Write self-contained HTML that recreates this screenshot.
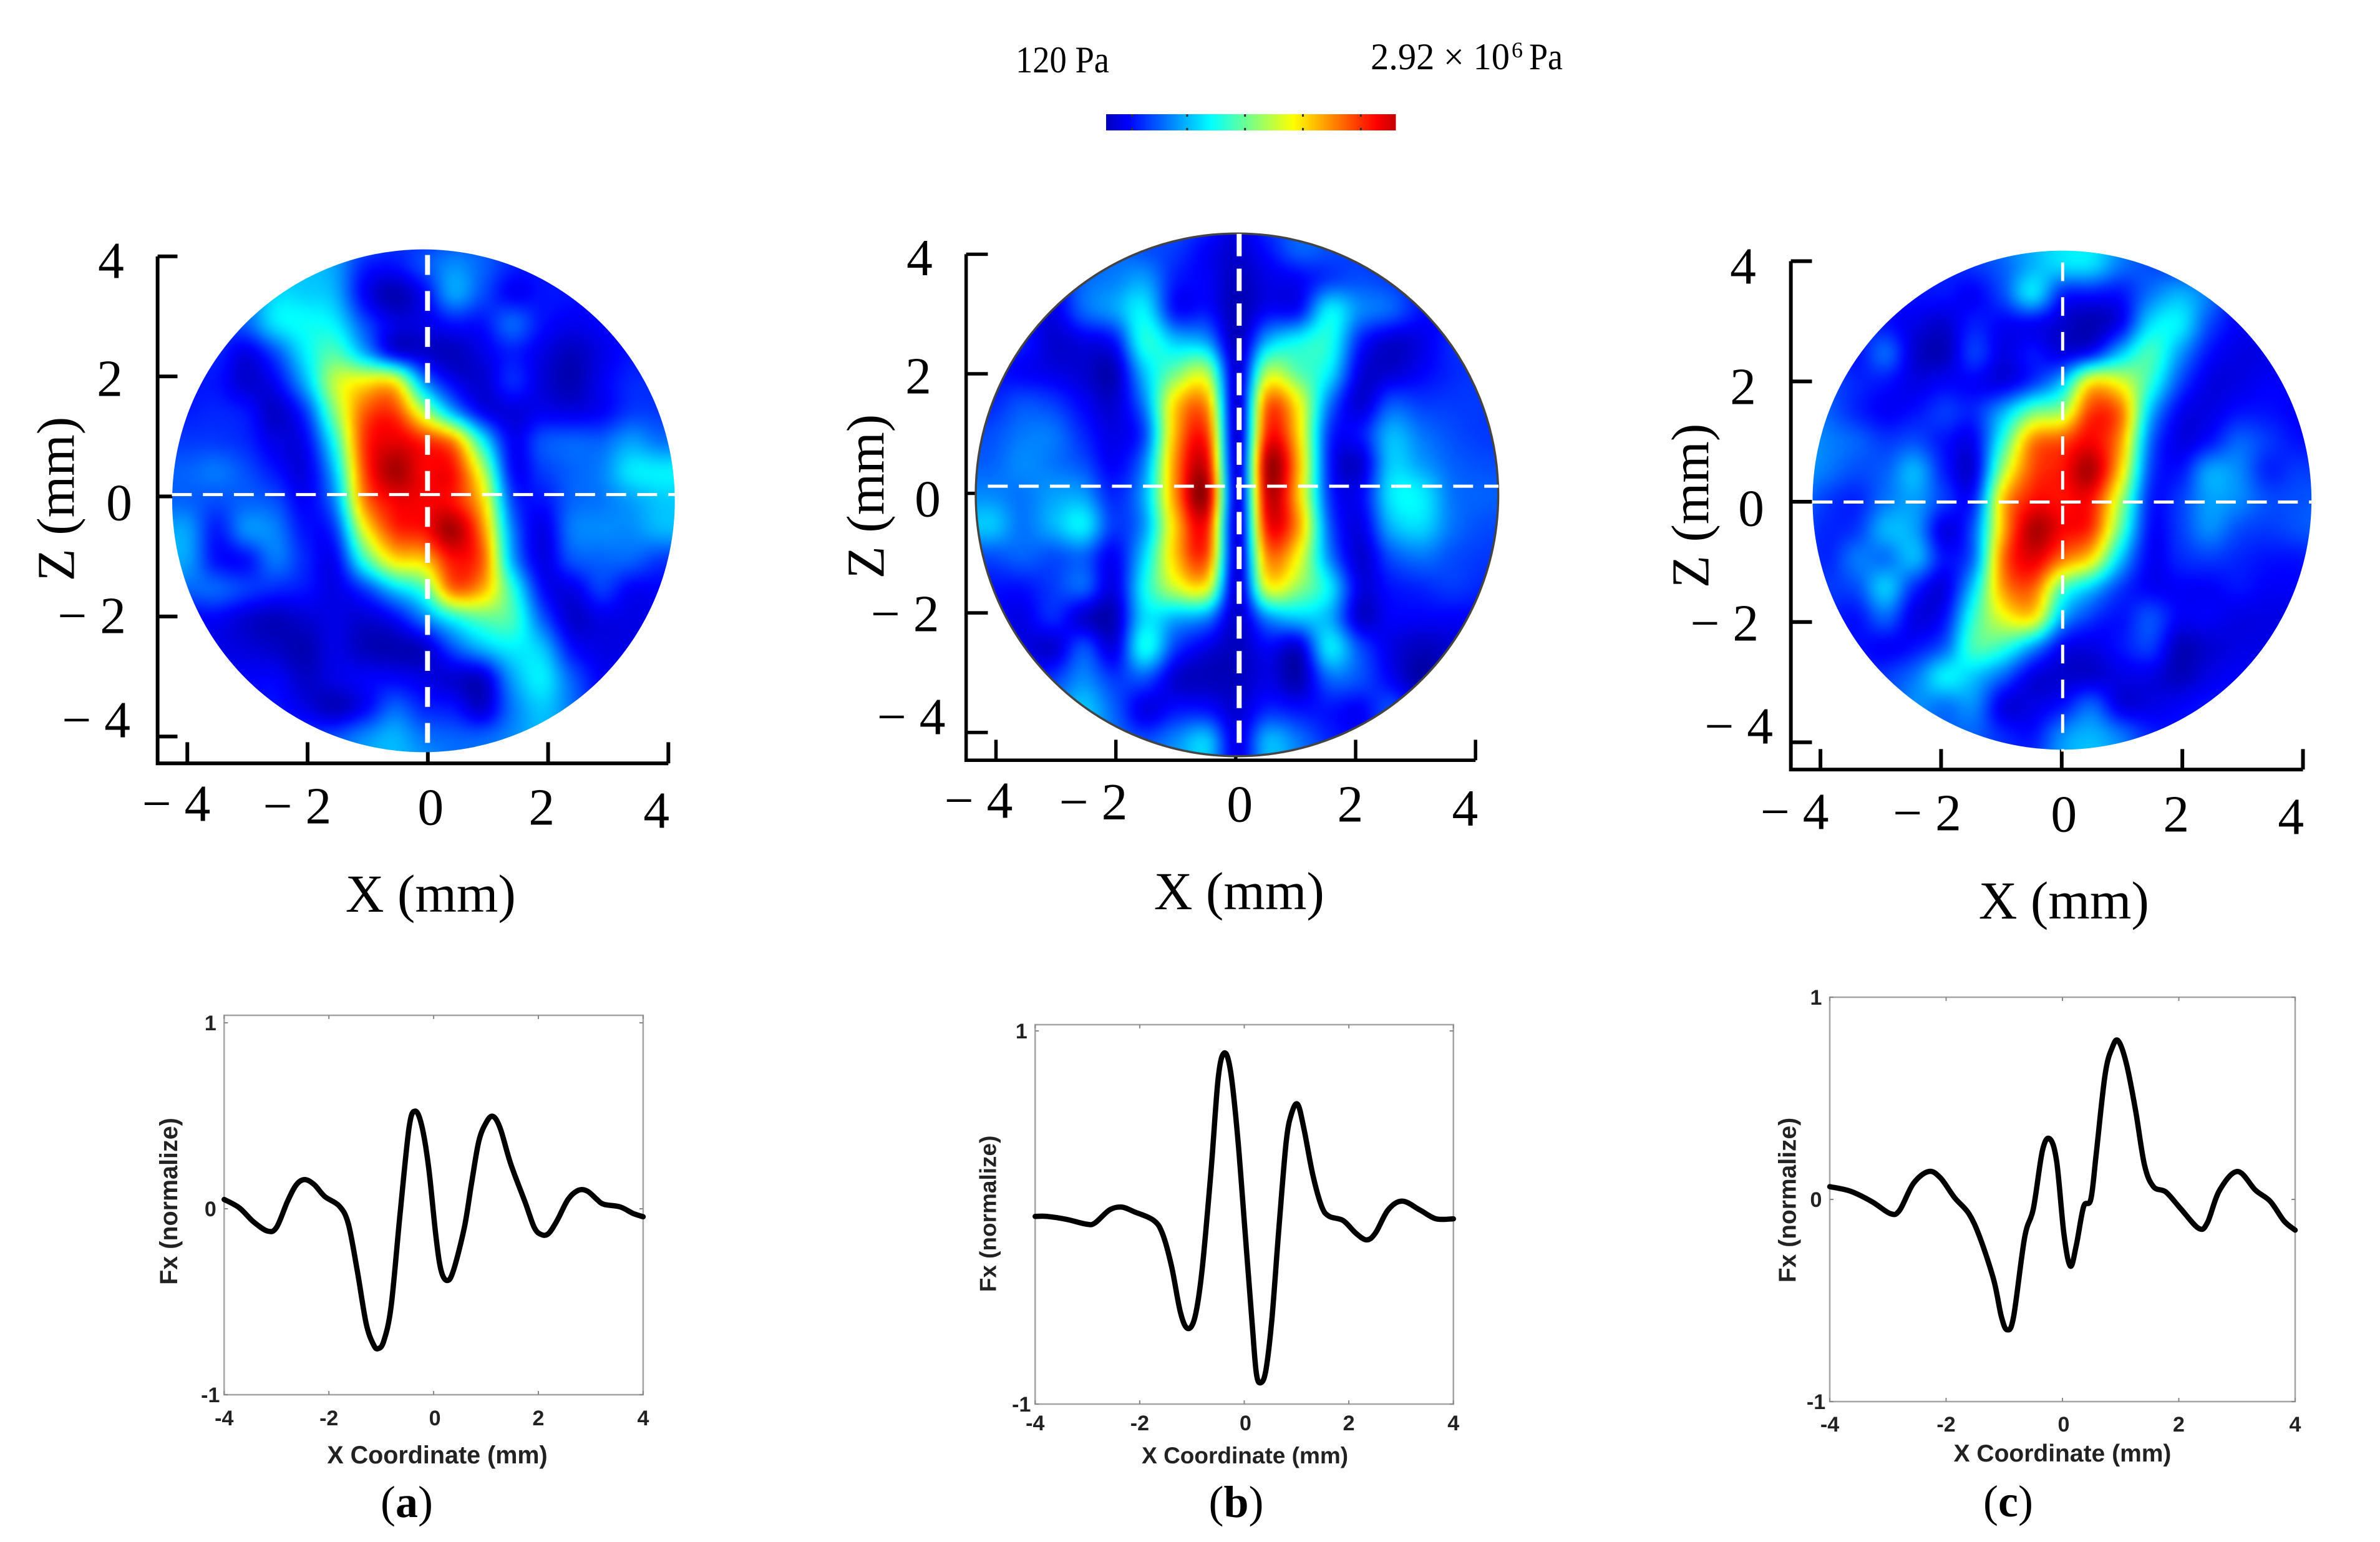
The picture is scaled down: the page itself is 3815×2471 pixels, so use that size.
<!DOCTYPE html>
<html lang="en">
<head>
<meta charset="utf-8">
<title>Acoustic pressure fields and normalized Fx curves</title>
<style>
html,body{margin:0;padding:0;background:#fff;}
svg{display:block;}
.serif{font-family:"Liberation Serif","Times New Roman",serif;fill:#000;}
.tl{font-size:84px;text-anchor:middle;}
.al{font-size:86px;text-anchor:middle;}
.sans{font-family:"Liberation Sans",Arial,sans-serif;font-weight:700;fill:#222;text-anchor:middle;}
</style>
</head>
<body>
<svg id="figure" xmlns="http://www.w3.org/2000/svg" width="3815" height="2471" viewBox="0 0 3815 2471">
<defs>
<filter id="soft" filterUnits="userSpaceOnUse" x="0" y="300" width="3815" height="1000" color-interpolation-filters="sRGB"><feGaussianBlur stdDeviation="3.5"/></filter>
<clipPath id="clip-a"><circle cx="682.5" cy="805" r="405"/></clipPath>
<clipPath id="clip-b"><circle cx="1986.5" cy="795.4" r="421"/></clipPath>
<clipPath id="clip-c"><circle cx="3309" cy="804" r="402"/></clipPath>
</defs>
<rect x="0" y="0" width="3815" height="2471" fill="#fff"/>

<g id="colorbar"></g>
<text class="serif" x="1628" y="116" font-size="60" textLength="150" lengthAdjust="spacingAndGlyphs">120 Pa</text>
<text class="serif" x="2197" y="111" font-size="60" textLength="223" lengthAdjust="spacingAndGlyphs">2.92 × 10</text>
<text class="serif" x="2423" y="92" font-size="36">6</text>
<text class="serif" x="2451" y="111" font-size="60" textLength="54" lengthAdjust="spacingAndGlyphs">Pa</text>

<!-- panel a field -->
<g transform="translate(0 340) scale(0.99464) translate(0 -340)">
<g id="axes-a"></g>
<g clip-path="url(#clip-a)"><g id="heat-a" filter="url(#soft)"></g></g>
<line x1="689" y1="409" x2="689" y2="1209" stroke="#fff" stroke-width="8" stroke-dasharray="32 26"/>
<line x1="277" y1="795" x2="1088" y2="795" stroke="#fff" stroke-width="5" stroke-dasharray="32 18"/>
<g>
<text class="serif tl" x="179" y="446">4</text>
<text class="serif tl" x="177" y="636">2</text>
<text class="serif tl" x="192" y="836">0</text>
<text class="serif tl" x="148" y="1018">− 2</text>
<text class="serif tl" x="155" y="1186">− 4</text>
<text class="serif tl" x="284" y="1321">− 4</text>
<text class="serif tl" x="479" y="1325">− 2</text>
<text class="serif tl" x="694" y="1327">0</text>
<text class="serif tl" x="873" y="1327">2</text>
<text class="serif tl" x="1058" y="1332">4</text>
<text class="serif al" x="694" y="1467">X (mm)</text>
<text class="serif al" transform="translate(119 802) rotate(-90)">Z (mm)</text>
</g>
</g>

<!-- panel b field -->
<g transform="translate(1300 340) scale(0.99464) translate(-1300 -340)">
<g id="axes-b"></g>
<g clip-path="url(#clip-b)"><g id="heat-b" filter="url(#soft)"></g></g>
<circle cx="1986.5" cy="795.4" r="421" fill="none" stroke="#444" stroke-width="3.5"/>
<line x1="1990" y1="375" x2="1990" y2="1213" stroke="#fff" stroke-width="8" stroke-dasharray="36 20"/>
<line x1="1585" y1="781.5" x2="2408" y2="781.5" stroke="#fff" stroke-width="5" stroke-dasharray="32 18"/>
<g>
<text class="serif tl" x="1475" y="441.5">4</text>
<text class="serif tl" x="1473" y="632">2</text>
<text class="serif tl" x="1488" y="830">0</text>
<text class="serif tl" x="1451.5" y="1015">− 2</text>
<text class="serif tl" x="1461.5" y="1181">− 4</text>
<text class="serif tl" x="1570" y="1315.5">− 4</text>
<text class="serif tl" x="1755" y="1318.5">− 2</text>
<text class="serif tl" x="1991" y="1322">0</text>
<text class="serif tl" x="2169" y="1322">2</text>
<text class="serif tl" x="2354" y="1328.5">4</text>
<text class="serif al" x="1990" y="1463">X (mm)</text>
<text class="serif al" transform="translate(1417 798) rotate(-90)">Z (mm)</text>
</g>
</g>

<!-- panel c field -->
<g transform="translate(2620 340) scale(0.99464) translate(-2620 -340)">
<g id="axes-c"></g>
<g clip-path="url(#clip-c)"><g id="heat-c" filter="url(#soft)"></g></g>
<line x1="3310" y1="421" x2="3310" y2="1209" stroke="#fff" stroke-width="5" stroke-dasharray="30 26"/>
<line x1="2907" y1="807" x2="3712" y2="807" stroke="#fff" stroke-width="5" stroke-dasharray="32 18"/>
<g>
<text class="serif tl" x="2795" y="455">4</text>
<text class="serif tl" x="2795" y="649">2</text>
<text class="serif tl" x="2808" y="845">0</text>
<text class="serif tl" x="2765" y="1030">− 2</text>
<text class="serif tl" x="2788" y="1196">− 4</text>
<text class="serif tl" x="2878" y="1334">− 4</text>
<text class="serif tl" x="3091.5" y="1336">− 2</text>
<text class="serif tl" x="3312" y="1338">0</text>
<text class="serif tl" x="3493" y="1338">2</text>
<text class="serif tl" x="3678" y="1342">4</text>
<text class="serif al" x="3312" y="1478">X (mm)</text>
<text class="serif al" transform="translate(2739 813) rotate(-90)">Z (mm)</text>
</g>
</g>

<g id="plot-a"></g>
<g id="plot-b"></g>
<g id="plot-c"></g>

<text class="serif" x="652" y="2431" font-size="72" text-anchor="middle">(<tspan font-weight="700">a</tspan>)</text>
<text class="serif" x="1981.5" y="2431" font-size="72" text-anchor="middle">(<tspan font-weight="700">b</tspan>)</text>
<text class="serif" x="3219" y="2430" font-size="72" text-anchor="middle">(<tspan font-weight="700">c</tspan>)</text>
</svg>

<script>
// ---------- heatmap data (pressure, 0-100 of the colour scale), sampled every 0.5 mm ----------
const gridCoords = [-4.5,-4,-3.5,-3,-2.5,-2,-1.5,-1,-0.5,0,0.5,1,1.5,2,2.5,3,3.5,4,4.5];
const heatTicks = [-4,-2,0,2,4];
const colorbarTicks = [0.09,0.28,0.48,0.68,0.88];

const pressureA = [
[14,14,14,16,18,22,26,24,18,16,18,20,18,16,14,14,14,14,14],
[16,16,18,20,24,30,28,16,14,20,26,22,16,14,14,14,14,14,14],
[16,16,18,22,33,33,30,12,5,12,28,20,12,14,14,12,12,12,12],
[14,14,18,22,35,38,36,20,10,10,14,14,22,14,11,12,12,12,12],
[14,14,16,10,20,36,45,30,12,8,6,10,15,10,6,10,14,14,14],
[14,14,14,8,12,30,56,64,64,28,12,8,16,9,5,11,16,16,16],
[15,15,16,14,7,18,50,78,82,56,30,12,9,11,10,12,18,18,18],
[18,18,18,16,10,12,40,82,90,84,74,38,12,20,22,22,28,24,24],
[22,22,24,20,14,10,32,80,96,88,86,56,14,18,22,25,35,36,36],
[22,22,20,22,20,12,26,74,88,88,86,66,20,14,22,24,28,32,32],
[28,28,15,26,25,14,18,60,82,86,96,74,26,10,24,26,26,30,30],
[28,28,14,14,24,16,12,42,64,68,86,78,30,10,20,22,22,18,18],
[22,22,22,18,16,14,10,18,32,44,76,70,42,14,10,18,12,12,12],
[12,12,12,8,6,8,10,8,12,24,38,46,44,22,8,10,10,10,10],
[10,10,10,9,7,5,10,6,5,7,20,30,36,32,14,10,10,10,10],
[12,12,12,12,12,7,10,12,12,10,8,8,28,36,22,12,12,12,12],
[12,12,12,12,14,10,6,12,22,16,14,8,24,32,24,14,12,12,12],
[14,14,14,14,16,18,20,26,30,24,22,22,26,30,26,18,14,14,14],
[16,16,16,16,18,20,24,28,30,28,24,24,26,28,26,20,16,16,16]
];
const pressureB = [
[12,12,14,16,18,20,20,20,18,10,18,20,20,18,14,14,12,12,12],
[12,12,14,16,18,22,20,18,12,8,14,22,20,18,14,14,12,12,12],
[12,12,12,12,22,25,28,15,12,6,10,12,18,20,18,14,12,12,12],
[14,14,12,10,22,28,36,14,14,5,12,14,36,26,22,14,12,12,12],
[15,15,15,8,10,14,40,32,28,6,30,38,40,16,8,10,16,16,16],
[14,14,12,10,8,6,32,48,54,8,54,46,36,10,8,12,16,18,18],
[16,16,20,18,12,8,26,66,72,8,76,62,25,8,20,18,18,18,18],
[20,20,24,24,16,10,20,70,82,8,84,66,18,14,30,24,20,18,18],
[22,22,26,24,20,12,26,74,90,9,95,70,16,8,32,28,22,20,20],
[26,26,24,28,28,16,30,74,96,10,92,68,18,12,35,36,24,22,22],
[30,32,24,30,36,18,28,68,86,9,86,72,22,10,30,34,24,20,20],
[20,20,22,20,22,12,34,68,80,9,74,62,26,8,20,24,20,18,18],
[14,14,14,18,22,10,38,58,62,8,60,52,36,10,14,16,18,16,16],
[12,12,10,16,8,6,34,30,26,7,26,32,30,8,12,12,12,12,12],
[10,10,10,8,20,10,38,18,10,6,12,8,35,20,10,6,8,10,10],
[12,12,14,18,26,18,20,8,6,6,10,5,22,20,12,4,8,10,10],
[14,14,16,24,32,22,10,14,14,8,16,14,14,12,20,12,10,10,10],
[14,14,16,24,30,24,20,26,32,10,30,24,16,14,18,14,12,12,12],
[14,14,16,20,24,24,22,26,30,10,28,24,18,16,16,14,12,12,12]
];
const pressureC = [
[14,14,16,16,16,18,22,26,30,34,34,26,20,16,14,14,14,14,14],
[14,14,14,14,14,16,18,22,30,34,34,24,20,18,16,14,14,14,14],
[14,14,14,14,14,14,12,20,34,16,14,14,24,30,24,14,14,14,14],
[16,16,16,14,10,8,15,12,12,8,5,12,34,36,20,12,12,12,12],
[18,18,14,22,8,6,18,10,14,10,15,32,44,28,14,10,10,10,10],
[22,20,16,14,10,12,12,10,18,32,64,60,42,20,10,10,12,12,12],
[26,22,16,12,14,18,16,30,48,54,82,76,32,12,10,14,14,12,12],
[28,25,22,18,20,14,12,42,74,80,88,72,24,10,14,22,18,14,14],
[28,24,20,22,30,15,10,54,80,86,95,66,20,14,28,26,16,18,18],
[24,18,16,24,28,18,16,68,86,86,86,54,16,18,28,26,20,20,22],
[20,16,18,30,28,10,22,70,95,88,82,46,14,18,26,20,18,20,22],
[20,16,24,24,30,14,24,76,90,76,64,32,12,16,18,16,14,14,16],
[20,18,20,32,16,10,34,72,78,46,32,18,12,12,12,14,12,12,14],
[20,16,14,22,10,14,42,60,64,30,18,14,20,12,12,10,10,10,12],
[18,16,14,12,14,22,44,42,28,12,10,14,18,6,8,10,10,10,10],
[18,16,16,18,24,36,32,22,10,8,8,10,10,6,10,12,10,10,10],
[18,18,18,20,26,24,26,10,10,14,22,10,10,12,14,14,12,12,12],
[18,18,18,20,22,22,22,16,14,26,30,24,16,14,14,14,12,12,12],
[18,18,18,20,22,22,22,18,18,28,32,26,18,14,14,14,12,12,12]
];

// ---------- force curve data (x in mm, normalized Fx) ----------
const lineXTicks = [-4,-2,0,2,4];
const lineXLabels = ['-4','-2','0','2','4'];
const fxAX = [-4,-3.71,-3.44,-3.17,-3,-2.79,-2.62,-2.46,-2.28,-2.08,-1.8,-1.63,-1.46,-1.29,-1.15,-1.06,-0.95,-0.81,-0.64,-0.47,-0.355,-0.23,-0.096,0.04,0.14,0.26,0.38,0.587,0.72,0.86,1,1.13,1.27,1.47,1.75,1.92,2.05,2.19,2.36,2.57,2.77,2.94,3.11,3.25,3.56,3.8,4];
const fxAY = [0.05,0.005,-0.07,-0.12,-0.1,0.04,0.13,0.157,0.13,0.066,0.014,-0.08,-0.33,-0.615,-0.73,-0.752,-0.71,-0.52,-0.024,0.434,0.525,0.45,0.224,-0.14,-0.33,-0.386,-0.33,-0.1,0.13,0.36,0.462,0.497,0.434,0.243,0.033,-0.1,-0.138,-0.134,-0.062,0.052,0.1,0.094,0.052,0.024,0.01,-0.024,-0.043];
const fxBX = [-4,-3.78,-3.4,-3.03,-2.86,-2.58,-2.35,-2.1,-1.73,-1.56,-1.39,-1.22,-1.08,-0.94,-0.807,-0.636,-0.5,-0.383,-0.26,-0.123,0.014,0.15,0.23,0.31,0.41,0.527,0.663,0.8,0.9,1.02,1.14,1.31,1.48,1.62,1.89,2.13,2.34,2.51,2.75,3.02,3.36,3.67,4];
const fxBY = [0.006,0.006,-0.01,-0.035,-0.03,0.04,0.056,0.03,-0.016,-0.09,-0.263,-0.51,-0.595,-0.53,-0.28,0.25,0.744,0.882,0.78,0.42,-0.073,-0.567,-0.833,-0.886,-0.823,-0.548,-0.054,0.4,0.553,0.607,0.478,0.23,0.06,0.007,-0.016,-0.083,-0.12,-0.083,0.04,0.088,0.04,-0.007,-0.007];
const fxCX = [-4,-3.64,-3.27,-2.96,-2.8,-2.56,-2.3,-2.1,-1.855,-1.61,-1.42,-1.18,-1.05,-0.95,-0.84,-0.65,-0.5,-0.345,-0.22,-0.1,0.025,0.136,0.24,0.364,0.487,0.58,0.733,0.857,0.96,1.1,1.257,1.41,1.565,1.78,2.03,2.34,2.49,2.7,3.01,3.32,3.57,3.81,4];
const fxCY = [0.063,0.04,-0.012,-0.07,-0.054,0.08,0.138,0.107,0.009,-0.07,-0.188,-0.4,-0.58,-0.645,-0.58,-0.188,-0.045,0.24,0.3,0.188,-0.17,-0.33,-0.224,-0.036,0,0.224,0.618,0.752,0.784,0.67,0.44,0.17,0.063,0.036,-0.045,-0.143,-0.116,0.045,0.138,0.045,-0.009,-0.107,-0.152];

const NS = 'http://www.w3.org/2000/svg';
function mk(parent, tag, attrs){
  const el = document.createElementNS(NS, tag);
  for (const k in attrs) el.setAttribute(k, attrs[k]);
  parent.appendChild(el);
  return el;
}
function clamp01(v){ return Math.max(0, Math.min(1, v)); }
function jet(v){
  const t = clamp01(v / 100);
  const r = clamp01(Math.min(4*t - 1.5, -4*t + 4.5));
  const g = clamp01(Math.min(4*t - 0.5, -4*t + 3.5));
  const b = clamp01(Math.min(4*t + 0.5, -4*t + 2.5));
  return 'rgb(' + Math.round(r*255) + ',' + Math.round(g*255) + ',' + Math.round(b*255) + ')';
}
function cr(p0,p1,p2,p3,t){
  return 0.5*((2*p1)+(-p0+p2)*t+(2*p0-5*p1+4*p2-p3)*t*t+(-p0+3*p1-3*p2+p3)*t*t*t);
}
function sample(grid, xmm, ymm){
  const step = gridCoords[1] - gridCoords[0];
  const n = gridCoords.length;
  const fx = Math.max(0, Math.min(n-1.001, (xmm - gridCoords[0]) / step));
  const fy = Math.max(0, Math.min(n-1.001, (ymm - gridCoords[0]) / step));
  const ix = Math.floor(fx), iy = Math.floor(fy);
  const at = (a) => Math.max(0, Math.min(n-1, a));
  const rows = [];
  for (let j = -1; j <= 2; j++){
    const row = grid[at(iy+j)];
    rows.push(cr(row[at(ix-1)], row[at(ix)], row[at(ix+1)], row[at(ix+2)], fx-ix));
  }
  return cr(rows[0], rows[1], rows[2], rows[3], fy-iy);
}
function drawHeatmap(id, grid, cx, cy, r){
  const g = document.getElementById(id);
  const cell = 8;
  const mmPerPx = 4.25 / r;
  for (let py = cy - r - 16; py < cy + r + 16; py += cell){
    for (let px = cx - r - 16; px < cx + r + 16; px += cell){
      const dx = px + cell/2 - cx, dy = py + cell/2 - cy;
      if (dx*dx + dy*dy > (r+20)*(r+20)) continue;
      const v = sample(grid, dx*mmPerPx, dy*mmPerPx);
      const c = mk(g, 'rect', {x:px, y:py, width:cell+0.5, height:cell+0.5, fill:jet(v), 'shape-rendering':'crispEdges'});
      
      
    }
  }
}
function drawHeatAxes(id, o){
  const g = document.getElementById(id);
  const xs = (v) => o.x0 + v*o.xk;
  const ys = (v) => o.y0 - v*o.yk;
  const left = mk(g, 'path', {d:'M'+o.left+' '+ys(4)+' V'+o.bottom+' H'+xs(4), fill:'none', stroke:'#000', 'stroke-width':o.w});
  
  
  heatTicks.forEach(function(t){
    const a = mk(g, 'line', {x1:o.left, x2:o.ytick, y1:ys(t), y2:ys(t), stroke:'#000', 'stroke-width':o.w});
    
    
    const b = mk(g, 'line', {x1:xs(t), x2:xs(t), y1:o.bottom, y2:o.xtick, stroke:'#000', 'stroke-width':o.w});
    
    
  });
}
function splinePath(xs, ys){
  let d = 'M' + xs[0].toFixed(1) + ' ' + ys[0].toFixed(1);
  for (let i = 0; i < xs.length-1; i++){
    const i0 = Math.max(0,i-1), i3 = Math.min(xs.length-1,i+2);
    const c1x = xs[i] + (xs[i+1]-xs[i0])/6, c1y = ys[i] + (ys[i+1]-ys[i0])/6;
    const c2x = xs[i+1] - (xs[i3]-xs[i])/6, c2y = ys[i+1] - (ys[i3]-ys[i])/6;
    d += ' C' + c1x.toFixed(1)+' '+c1y.toFixed(1)+' '+c2x.toFixed(1)+' '+c2y.toFixed(1)+' '+xs[i+1].toFixed(1)+' '+ys[i+1].toFixed(1);
  }
  return d;
}
function drawLinePlot(id, o, xv, yv, yTickValues, yTickLabels){
  const g = document.getElementById(id);
  const xs = (v) => o.x0 + v*o.xk;
  const ys = (v) => o.y0 - v*o.yk;
  const box = mk(g, 'rect', {x:xs(-4), y:o.top, width:xs(4)-xs(-4), height:ys(-1)-o.top, fill:'none', stroke:'#a4a4a4', 'stroke-width':2.5});
  
  
  lineXTicks.forEach(function(t, i){
    const a = mk(g, 'line', {x1:xs(t), x2:xs(t), y1:ys(-1), y2:ys(-1)-6, stroke:'#888', 'stroke-width':2});
    
    
    const b = mk(g, 'line', {x1:xs(t), x2:xs(t), y1:o.top, y2:o.top+6, stroke:'#888', 'stroke-width':2});
    
    
    const l = mk(g, 'text', {x:xs(t)+(t===0?2:0), y:o.xLabelY, 'font-size':o.tickFs, 'class':'sans'});
    l.textContent = lineXLabels[i];
    
    
  });
  yTickValues.forEach(function(t, i){
    const a = mk(g, 'line', {x1:xs(-4), x2:xs(-4)+6, y1:ys(t), y2:ys(t), stroke:'#888', 'stroke-width':2});
    
    
    const b = mk(g, 'line', {x1:xs(4), x2:xs(4)-6, y1:ys(t), y2:ys(t), stroke:'#888', 'stroke-width':2});
    
    
    const l = mk(g, 'text', {x:xs(-4)+o.yLabelDx, y:ys(t)+o.tickFs*0.36, 'font-size':o.tickFs, 'class':'sans'});
    l.textContent = yTickLabels[i];
    
    
  });
  const curve = mk(g, 'path', {d:splinePath(xv.map(xs), yv.map(ys)), fill:'none', stroke:'#000', 'stroke-width':8.5, 'stroke-linejoin':'round', 'stroke-linecap':'round'});
  
  
  const xt = mk(g, 'text', {x:o.xTitleX, y:o.xTitleY, 'font-size':o.titleFs, 'class':'sans'});
  xt.textContent = 'X Coordinate (mm)';
  
  
  const yt = mk(g, 'text', {transform:'translate('+o.yTitleX+' '+o.yTitleY+') rotate(-90)', 'font-size':o.titleFs, 'class':'sans'});
  yt.textContent = 'Fx (normalize)';
  
  
}
function drawColorbar(){
  const g = document.getElementById('colorbar');
  const x0 = 1773, x1 = 2237, y0 = 183, y1 = 209;
  for (let px = x0; px < x1; px += 2){
    const t = (px - x0) / (x1 - x0);
    const s = mk(g, 'rect', {x:px, y:y0, width:2.5, height:y1-y0, fill:jet(t*87.5+6), 'shape-rendering':'crispEdges'});
    
    
  }
  colorbarTicks.forEach(function(t){
    const px = x0 + t*(x1-x0);
    const a = mk(g, 'rect', {x:px-1.5, y:y0, width:3, height:4, fill:'#333'});
    
    
    const b = mk(g, 'rect', {x:px-1.5, y:y1-4, width:3, height:4, fill:'#333'});
    
    
  });
}

drawColorbar();
drawHeatAxes('axes-a', {x0:689.5, xk:96.9, y0:798, yk:96.7, left:254, bottom:1228, ytick:286, xtick:1194, w:6});
drawHeatAxes('axes-b', {x0:1984.5, xk:96.6, y0:793, yk:96.3, left:1550, bottom:1223, ytick:1585, xtick:1190, w:5.5});
drawHeatAxes('axes-c', {x0:3308.5, xk:97.2, y0:806.5, yk:96.9, left:2872, bottom:1238, ytick:2906, xtick:1205, w:6});
drawHeatmap('heat-a', pressureA, 682.5, 805, 405);
drawHeatmap('heat-b', pressureB, 1986.5, 795.4, 421);
drawHeatmap('heat-c', pressureC, 3309, 804, 402);

drawLinePlot('plot-a', {x0:695.1, xk:83.95, y0:1937, yk:298, top:1627, xLabelY:2284, tickFs:34, titleFs:39.5, xTitleX:701, xTitleY:2345, yTitleX:284, yTitleY:1925, yLabelDx:-22}, fxAX, fxAY, [1,0,-1], ['1','0','-1']);
drawLinePlot('plot-b', {x0:1994.5, xk:83.8, y0:1951, yk:299, top:1642, xLabelY:2292, tickFs:34, titleFs:37, xTitleX:1995.6, xTitleY:2345, yTitleX:1596.6, yTitleY:1945, yLabelDx:-22}, fxBX, fxBY, [1,-1], ['1','-1']);
drawLinePlot('plot-c', {x0:3306, xk:93.25, y0:1922, yk:324, top:1598, xLabelY:2294, tickFs:34, titleFs:39, xTitleX:3306, xTitleY:2342, yTitleX:2878.6, yTitleY:1923, yLabelDx:-22}, fxCX, fxCY, [1,0,-1], ['1','0','-1']);
</script>
</body>
</html>
